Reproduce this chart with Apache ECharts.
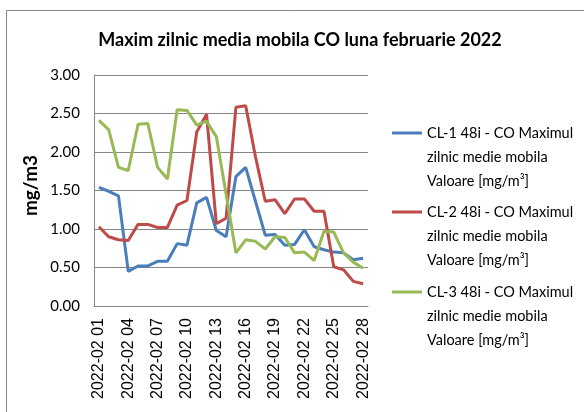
<!DOCTYPE html>
<html><head><meta charset="utf-8">
<script src="https://cdn.jsdelivr.net/npm/echarts@6/dist/echarts.min.js"></script>
<style>html,body{margin:0;padding:0;background:#fff}#c{width:584px;height:412px}</style>
</head><body><div id="c"></div>
<script>
const days = [];
for (let d = 1; d <= 28; d++) days.push('2022-02 ' + String(d).padStart(2, '0'));
const yTicks = [0, 0.5, 1.0, 1.5, 2.0, 2.5, 3.0];
const cl1 = [1.54, 1.49, 1.43, 0.45, 0.52, 0.52, 0.58, 0.58, 0.81, 0.79, 1.34, 1.41, 0.98, 0.90, 1.68, 1.80, 1.36, 0.92, 0.93, 0.79, 0.80, 0.99, 0.77, 0.73, 0.70, 0.69, 0.60, 0.62];
const cl2 = [1.03, 0.90, 0.86, 0.85, 1.06, 1.06, 1.02, 1.02, 1.31, 1.37, 2.26, 2.49, 1.07, 1.14, 2.58, 2.60, 1.94, 1.36, 1.38, 1.20, 1.39, 1.39, 1.23, 1.23, 0.51, 0.47, 0.32, 0.29];
const cl3 = [2.41, 2.29, 1.80, 1.76, 2.36, 2.37, 1.80, 1.65, 2.55, 2.54, 2.35, 2.40, 2.20, 1.45, 0.69, 0.86, 0.84, 0.74, 0.90, 0.89, 0.69, 0.70, 0.59, 0.97, 0.96, 0.69, 0.57, 0.49];
const names = [
  'CL-1 48i - CO Maximul\nzilnic medie mobila\nValoare [mg/m³]',
  'CL-2 48i - CO Maximul\nzilnic medie mobila\nValoare [mg/m³]',
  'CL-3 48i - CO Maximul\nzilnic medie mobila\nValoare [mg/m³]'
];
const colors = ['#4A7EBB', '#BE4B48', '#98B954'];
const title = 'Maxim zilnic media mobila CO luna februarie 2022';
const FONT = 'Lato';

const chart = echarts.init(document.getElementById('c'), null, {renderer: 'canvas'});
// icon centre lines (first text line) at ~133, 212, 292; item is 5 lines x 24px tall
const legendTops = [73, 152, 232];
chart.setOption({
  animation: false,
  backgroundColor: '#fff',
  graphic: [{type: 'rect', shape: {x: 6.5, y: 10.5, width: 600, height: 420}, style: {fill: 'none', stroke: '#868686', lineWidth: 1}, silent: true}],
  title: {text: title, left: 295, textAlign: 'center', top: 26,
    textStyle: {fontFamily: FONT, fontWeight: 'bold', fontSize: 18, color: '#000'}},
  legend: names.map((n, i) => ({
    data: [n], left: 392, top: legendTops[i], orient: 'vertical', padding: 0,
    itemWidth: 30, itemHeight: 3, icon: 'rect', itemStyle: {color: colors[i]},
    formatter: s => ' \n \n' + s,
    textStyle: {fontFamily: FONT, fontSize: 14.5, color: '#000', lineHeight: 24},
    selectedMode: false
  })),
  grid: {left: 94, right: 216, top: 75, bottom: 106},
  xAxis: {type: 'category', data: days, boundaryGap: true,
    axisLine: {lineStyle: {color: '#868686'}}, axisTick: {show: false},
    axisLabel: {interval: 2, rotate: 90, margin: 12, fontFamily: 'Liberation Sans', fontSize: 16, color: '#000'}},
  yAxis: {type: 'value', min: yTicks[0], max: yTicks[yTicks.length - 1], interval: 0.5,
    name: 'mg/m3', nameLocation: 'middle', nameGap: 54, nameRotate: 90,
    nameTextStyle: {fontFamily: FONT, fontWeight: 'bold', fontSize: 19, color: '#000', padding: [0, 0, 0, 10]},
    axisLine: {show: true, lineStyle: {color: '#868686'}}, axisTick: {show: false},
    splitLine: {lineStyle: {color: '#868686', width: 1}},
    axisLabel: {margin: 14, formatter: v => v.toFixed(2), fontFamily: FONT, fontSize: 15, color: '#000'}},
  series: [cl1, cl2, cl3].map((d, i) => ({
    name: names[i], type: 'line', data: d, symbol: 'none',
    lineStyle: {width: 3, color: colors[i]}, itemStyle: {color: colors[i]}
  }))
});
</script></body></html>
